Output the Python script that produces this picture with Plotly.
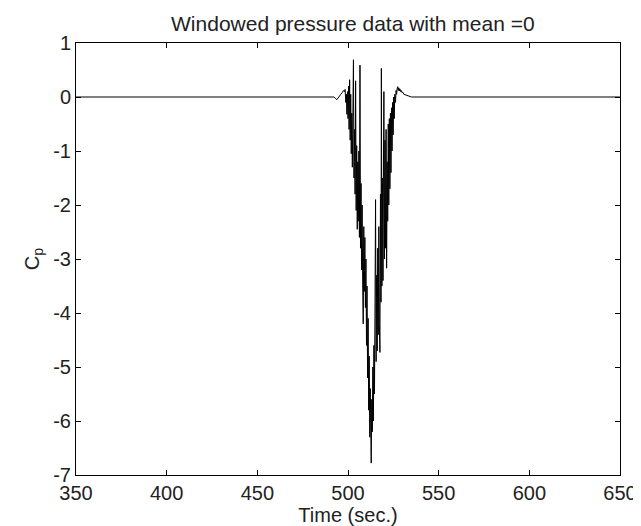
import plotly.graph_objects as go

# time (sec.) and Cp values
time = [350.0, 492.2, 493.0, 493.8, 494.5, 495.2, 496.0, 496.8, 497.5, 498.0,
        498.4, 498.8, 499.1, 499.4, 499.7, 500.0, 500.3, 500.6, 500.9, 501.2,
        501.5, 501.8, 502.1, 502.4, 502.7, 503.0, 503.3, 503.6, 503.9, 504.2,
        504.5, 504.8, 505.1, 505.4, 505.7, 506.0, 506.3, 506.6, 506.9, 507.2,
        507.5, 507.8, 508.1, 508.4, 508.7, 509.0, 509.3, 509.6, 509.9, 510.2,
        510.5, 510.8, 511.1, 511.4, 511.7, 512.0, 512.3, 512.6, 512.8, 513.1,
        513.4, 513.7, 514.0, 514.3, 514.6, 514.9, 515.2, 515.5, 515.8, 516.1,
        516.4, 516.7, 517.0, 517.3, 517.6, 517.9, 518.2, 518.4, 518.7, 519.0,
        519.3, 519.6, 519.8, 520.1, 520.4, 520.7, 521.0, 521.3, 521.6, 521.9,
        522.2, 522.5, 522.8, 523.1, 523.4, 523.7, 524.0, 524.3, 524.6, 524.9,
        525.2, 525.5, 525.8, 526.2, 526.5, 526.8, 527.1, 527.4, 527.7, 528.0,
        528.3, 528.6, 529.0, 529.4, 529.8, 530.2, 530.8, 531.5, 532.2, 533.0,
        534.0, 535.0, 650.0]
cp = [0.0, 0.0, -0.02, -0.05, -0.02, 0.02, 0.05, 0.08, 0.12, 0.10,
      0.14, -0.10, 0.05, -0.32, 0.10, -0.40, 0.20, -0.60, 0.32, -0.80,
      0.05, -1.05, -0.30, -1.30, 0.10, 0.69, -1.50, -0.60, -1.80, 0.30,
      -2.10, -0.90, -2.45, -1.20, -2.30, -1.00, -2.60, 0.59, -2.80, -1.60,
      -3.20, -2.00, -3.50, -4.20, -2.40, -3.60, -2.60, -3.90, -3.00, -4.60,
      -3.50, -5.20, -4.10, -5.80, -4.80, -6.30, -5.40, -6.40, -6.78, -5.60,
      -6.20, -5.00, -6.00, -4.60, -5.50, -3.80, -1.90, -4.90, -3.30, -4.70,
      -2.80, -4.40, -2.40, -4.20, -4.73, -1.80, -3.80, 0.53, -3.50, -1.50,
      -3.40, -1.00, 0.10, -3.00, -0.80, -2.80, -0.60, -3.17, -1.20, -2.30,
      -0.50, -2.00, -0.40, -1.70, -0.30, -1.40, -0.20, -1.00, -0.10, -0.70,
      0.00, -0.40, 0.05, -0.10, 0.12, 0.05, 0.15, 0.19, 0.12, 0.17,
      0.11, 0.15, 0.10, 0.12, 0.08, 0.09, 0.05, 0.04, 0.03, 0.02,
      0.01, 0.00, 0.00]

x_ticks = [350, 400, 450, 500, 550, 600, 650]
y_ticks = [-7, -6, -5, -4, -3, -2, -1, 0, 1]

font_family = "Liberation Sans, Arial, Helvetica, sans-serif"

fig = go.Figure()
fig.add_trace(go.Scatter(x=time, y=cp, mode="lines",
                         line=dict(color="black", width=1), showlegend=False))

axis_common = dict(
    showgrid=False, zeroline=False, showline=True, linecolor="black", linewidth=1,
    mirror="ticks", ticks="inside", ticklen=5, tickcolor="black", tickwidth=1,
    tickfont=dict(family=font_family, size=20, color="#222"),
)

fig.update_layout(
    width=641, height=526,
    paper_bgcolor="white", plot_bgcolor="white",
    margin=dict(l=68, r=20, t=35, b=56),
    title=dict(text="Windowed pressure data with mean =0", x=0.538, xanchor="center",
               y=0.985, yanchor="top",
               font=dict(family=font_family, size=21, color="#222")),
    xaxis=dict(range=[350, 650], tickvals=x_ticks, ticktext=[str(v) for v in x_ticks],
               title=dict(text="Time (sec.)", standoff=4,
                          font=dict(family=font_family, size=20, color="#222")),
               **axis_common),
    yaxis=dict(range=[-7, 1], tickvals=y_ticks, ticktext=[str(v) for v in y_ticks],
               title=dict(text="C<sub>p</sub>", standoff=8,
                          font=dict(family=font_family, size=20, color="#222")),
               **axis_common),
)

fig.write_html("out.html")
